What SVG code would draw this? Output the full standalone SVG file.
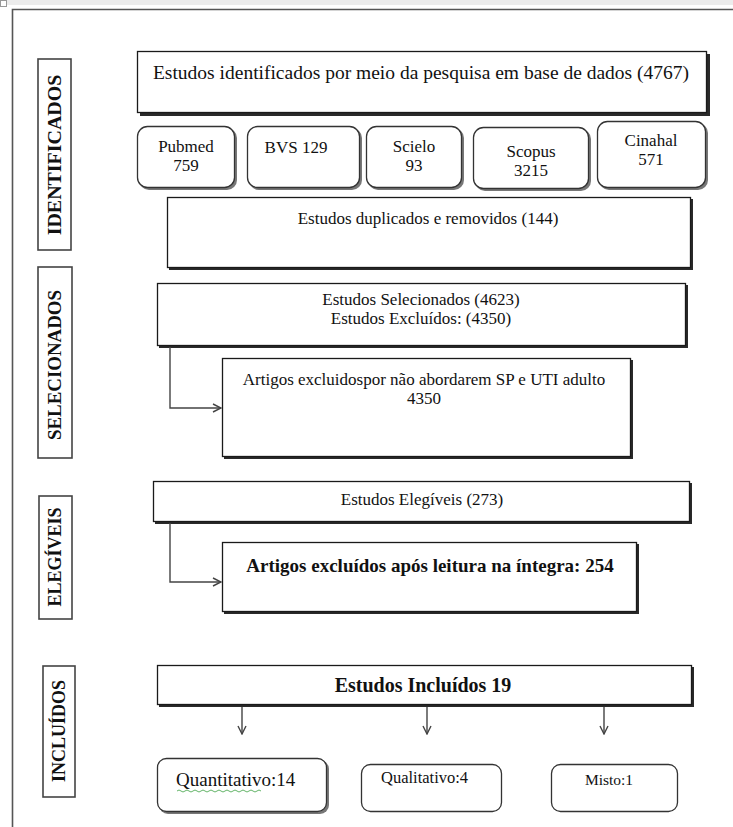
<svg xmlns="http://www.w3.org/2000/svg" width="733" height="827" viewBox="0 0 733 827">
<style>
.bx{fill:#fff;stroke:#1a1a1a;stroke-width:1.3}
.sh{fill:#2a2a2a}
.rb{fill:#fff;stroke:#333;stroke-width:1.3}
.rsh{fill:#777}
.lb{fill:#fff;stroke:#444;stroke-width:1.6}
.t{font-family:"Liberation Serif","Times New Roman",serif;fill:#111;text-anchor:middle}
.v{font-family:"Liberation Serif","Times New Roman",serif;font-weight:bold;fill:#111;text-anchor:middle}
.c{fill:none;stroke:#444;stroke-width:1.4}
</style>
<defs>
<marker id="ah" viewBox="0 0 10 10" refX="9" refY="5" markerWidth="10" markerHeight="10" markerUnits="userSpaceOnUse" orient="auto">
<path d="M1,1 L9,5 L1,9" fill="none" stroke="#444" stroke-width="1.4"/>
</marker>
</defs>
<rect x="0" y="0" width="733" height="5" fill="#ececec"/>
<rect x="0.5" y="0.5" width="6" height="6" fill="#fff" stroke="#999"/>
<path d="M12.5,827 V9.5 H733" fill="none" stroke="#555" stroke-width="1.6"/>

<g id="lbl-identificados">
<rect class="lb" x="38" y="59" width="33" height="191"/>
<text class="v" font-size="19" transform="translate(61,155) rotate(-90) scale(1.05,1)">IDENTIFICADOS</text>
</g>
<g id="lbl-selecionados">
<rect class="lb" x="38" y="267" width="34" height="191"/>
<text class="v" font-size="18" transform="translate(61,365) rotate(-90) scale(1.05,1)">SELECIONADOS</text>
</g>
<g id="lbl-elegiveis">
<rect class="lb" x="39" y="496" width="33" height="123"/>
<text class="v" font-size="18" transform="translate(61,557) rotate(-90)">ELEGÍVEIS</text>
</g>
<g id="lbl-incluidos">
<rect class="lb" x="43" y="666" width="32" height="131"/>
<text class="v" font-size="18" transform="translate(65,731) rotate(-90)">INCLUÍDOS</text>
</g>

<g id="n-identificados">
<rect class="sh" x="140" y="54" width="570" height="62"/>
<rect class="bx" x="137.5" y="51.5" width="569" height="61"/>
<text class="t" font-size="19.5" x="421" y="79">Estudos identificados por meio da pesquisa em base de dados (4767)</text>
</g>

<g id="n-pubmed">
<rect class="rsh" x="139" y="128" width="98" height="62" rx="10"/>
<rect class="rb" x="137.5" y="126.5" width="97" height="61" rx="10"/>
<text class="t" font-size="17" x="186" y="152">Pubmed</text>
<text class="t" font-size="17" x="186" y="171">759</text>
</g>
<g id="n-bvs">
<rect class="rsh" x="249" y="128" width="113" height="62" rx="10"/>
<rect class="rb" x="247.5" y="126.5" width="112" height="61" rx="10"/>
<text class="t" font-size="17" x="296" y="153">BVS 129</text>
</g>
<g id="n-scielo">
<rect class="rsh" x="368" y="128" width="96" height="62" rx="10"/>
<rect class="rb" x="366.5" y="126.5" width="95" height="61" rx="10"/>
<text class="t" font-size="17" x="414" y="152">Scielo</text>
<text class="t" font-size="17" x="414" y="171">93</text>
</g>
<g id="n-scopus">
<rect class="rsh" x="475" y="129" width="116" height="62" rx="10"/>
<rect class="rb" x="473.5" y="127.5" width="115" height="61" rx="10"/>
<text class="t" font-size="17" x="531" y="157">Scopus</text>
<text class="t" font-size="17" x="531" y="176">3215</text>
</g>
<g id="n-cinahal">
<rect class="rsh" x="599" y="123" width="109" height="67" rx="10"/>
<rect class="rb" x="597.5" y="121.5" width="108" height="66" rx="10"/>
<text class="t" font-size="17" x="651" y="146">Cinahal</text>
<text class="t" font-size="17" x="651" y="165">571</text>
</g>

<g id="n-duplicados">
<rect class="sh" x="169" y="199" width="524" height="71"/>
<rect class="bx" x="167.5" y="197.5" width="523" height="70"/>
<text class="t" font-size="17" x="428" y="224">Estudos duplicados e removidos (144)</text>
</g>

<g id="n-selecionados">
<rect class="sh" x="159" y="285" width="529" height="63"/>
<rect class="bx" x="157.5" y="283.5" width="528" height="62"/>
<text class="t" font-size="17" x="421" y="305">Estudos Selecionados (4623)</text>
<text class="t" font-size="17" x="421" y="324">Estudos Excluídos: (4350)</text>
</g>

<g id="n-excluidos1">
<rect class="sh" x="224" y="360" width="409" height="99"/>
<rect class="bx" x="222.5" y="358.5" width="408" height="98"/>
<text class="t" font-size="17" x="424" y="385">Artigos excluidospor não abordarem SP e UTI adulto</text>
<text class="t" font-size="17" x="424" y="404">4350</text>
</g>

<g id="n-elegiveis">
<rect class="sh" x="155" y="483" width="537" height="41"/>
<rect class="bx" x="153.5" y="481.5" width="536" height="40"/>
<text class="t" font-size="17" x="422" y="505">Estudos Elegíveis (273)</text>
</g>

<g id="n-excluidos2">
<rect class="sh" x="224" y="544" width="415" height="70"/>
<rect class="bx" x="222.5" y="542.5" width="414" height="69"/>
<text class="t" font-size="19" font-weight="bold" x="430" y="572">Artigos excluídos após leitura na íntegra: 254</text>
</g>

<g id="n-incluidos">
<rect class="sh" x="159" y="667" width="535" height="40"/>
<rect class="bx" x="157.5" y="665.5" width="534" height="39"/>
<text class="t" font-size="20" font-weight="bold" x="423" y="692">Estudos Incluídos 19</text>
</g>

<g id="n-quantitativo">
<rect class="rsh" x="159" y="760" width="170" height="54" rx="9"/>
<rect class="rb" x="157.5" y="758.5" width="169" height="53" rx="9"/>
<text class="t" font-size="19" x="176" y="786" style="text-anchor:start">Quantitativo:14</text>
<path d="M177,791 q2,-2 4,0 t4,0 t4,0 t4,0 t4,0 t4,0 t4,0 t4,0 t4,0 t4,0 t4,0 t4,0 t4,0 t4,0 t4,0 t4,0 t4,0 t4,0 t4,0 t4,0 t4,0" fill="none" stroke="#3aa040" stroke-width="0.8"/>
</g>
<g id="n-qualitativo">
<rect class="rb" x="361.5" y="764.5" width="140" height="47" rx="9"/>
<text class="t" font-size="16.5" x="381" y="783" style="text-anchor:start">Qualitativo:4</text>
</g>
<g id="n-misto">
<rect class="rb" x="551.5" y="764.5" width="126" height="47" rx="9"/>
<text class="t" font-size="15.5" x="609" y="785">Misto:1</text>
</g>

<g id="connectors">
<path class="c" d="M170,347 V408 H221" marker-end="url(#ah)"/>
<path class="c" d="M170,523 V582 H221" marker-end="url(#ah)"/>
<path class="c" d="M242,707 V734" marker-end="url(#ah)"/>
<path class="c" d="M427,707 V734" marker-end="url(#ah)"/>
<path class="c" d="M604,707 V734" marker-end="url(#ah)"/>
</g>
</svg>
